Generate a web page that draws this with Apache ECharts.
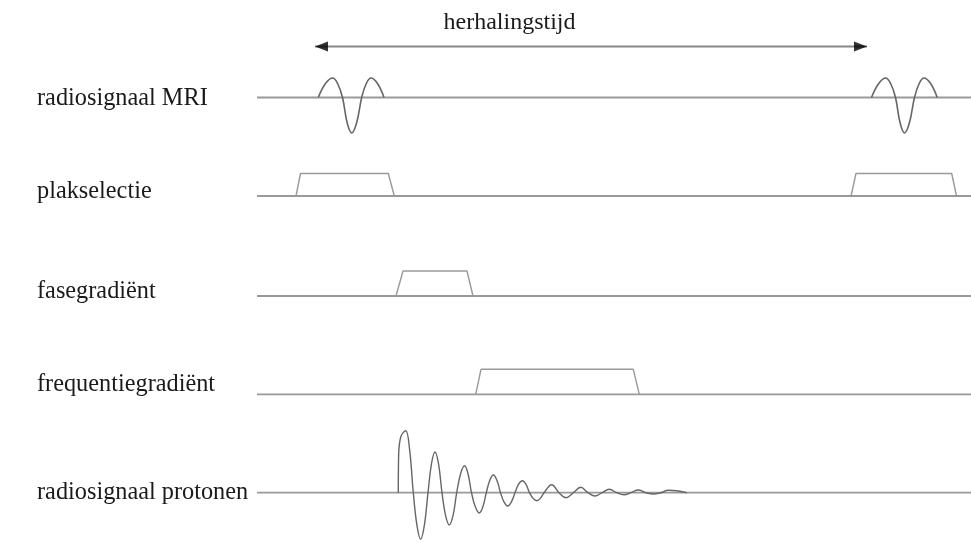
<!DOCTYPE html>
<html>
<head>
<meta charset="utf-8">
<script src="https://cdn.jsdelivr.net/npm/echarts@6/dist/echarts.min.js"></script>
<style>html,body{margin:0;padding:0;background:#fff}#c{width:971px;height:542px}</style>
</head>
<body>
<div id="c"></div>
<script>
// ---- data (time in arbitrary units along the sequence, amplitude in arbitrary units) ----
const titleText = 'herhalingstijd';
const rowLabels = ['radiosignaal MRI', 'plakselectie', 'fasegradiënt', 'frequentiegradiënt', 'radiosignaal protonen'];
const timeRange = [0, 714];
const repetitionArrow = [[58, 0], [610, 0]];
const rfPulse1 = [[61.3, 0], [68.5, 14], [75.7, 19.5], [80.6, 14], [85.5, 0], [90.1, -25], [94.7, -35.5],
  [99.7, -25], [104.7, 0], [109.3, 14], [114, 19.5], [120.5, 14], [127, 0]];
const rfPulse2 = [[614.5, 0], [621.7, 14], [628.7, 19.5], [633.6, 14], [638.5, 0], [643, -25], [647.5, -35.5],
  [652.5, -25], [657.5, 0], [662.2, 14], [667, 19.5], [673.6, 14], [680.2, 0]];
const sliceGrad1 = [[39, 0], [43.5, 22.5], [131.3, 22.5], [137.3, 0]];
const sliceGrad2 = [[594, 0], [599, 22.5], [694.7, 22.5], [699.5, 0]];
const phaseGrad = [[139, 0], [146, 25], [210, 25], [216, 0]];
const freqGrad = [[218.7, 0], [224, 25], [376.3, 25], [382.3, 0]];
const fidSignal = [[141.3, 0], [141.6, 36], [143.8, 56], [148.7, 62], [152.5, 44], [156.3, 0], [160, -33],
  [163.7, -46.6], [167.3, -33], [171, 0], [174.5, 29], [178, 40.7], [181.5, 29], [185, 0], [188.6, -23],
  [192.3, -32.3], [196, -23], [199.7, 0], [203.6, 19], [207.5, 27], [211, 19], [214.5, 0], [218.4, -14.4],
  [222.3, -20.3], [225.8, -14.4], [229.3, 0], [232.8, 12.5], [236.3, 17.7], [239.9, 12.5], [243.5, 0],
  [247.1, -9.4], [250.7, -13.3], [254.3, -9.4], [258, 0], [261.6, 8.5], [265.3, 12], [268.9, 8.5], [272.5, 0],
  [276.1, -5.7], [279.7, -8], [283.3, -5.7], [287, 0], [294.7, 8], [302, 0], [309, -5], [316.3, 0],
  [323.7, 5.4], [331, 0], [338, -3.3], [345, 0], [352.3, 3.4], [359.7, 0], [367, -2], [374, 0],
  [381.3, 2.7], [389, 0], [396.3, -1.3], [404, 0], [411.3, 2.4], [429.7, 0]];

// ---- layout ----
// baseline y, space above, space below (pixels) for arrow row + 5 signal rows
const rowLayout = [[46.5, 40, 40], [97.5, 45, 45], [196, 45, 45], [296, 45, 45], [394.3, 45, 45], [492.7, 70, 49]];
const labelMiddles = [99, 192, 292, 385, 493];
const FONT = '"Liberation Serif", "Times New Roman", serif';

const grids = [], xAxes = [], yAxes = [];
rowLayout.forEach((r, i) => {
  grids.push({ left: 257, right: 0, top: r[0] - r[1], height: r[1] + r[2] });
  xAxes.push({ type: 'value', gridIndex: i, min: timeRange[0], max: timeRange[1], show: false });
  yAxes.push({ type: 'value', gridIndex: i, min: -r[2], max: r[1], show: false });
});

const series = [];
for (let i = 1; i < rowLayout.length; i++) {
  series.push({ type: 'line', xAxisIndex: i, yAxisIndex: i, data: [[timeRange[0], 0], [timeRange[1], 0]],
    symbol: 'none', silent: true, lineStyle: { color: '#999', width: 1.8 } });
}
function wave(idx, data, smooth, color, width) {
  series.push({ type: 'line', xAxisIndex: idx, yAxisIndex: idx, data: data, symbol: 'none', smooth: smooth,
    clip: false, lineStyle: { color: color, width: width } });
}
wave(1, rfPulse1, 0.4, '#666', 1.6);
wave(1, rfPulse2, 0.4, '#666', 1.6);
wave(2, sliceGrad1, false, '#999', 1.4);
wave(2, sliceGrad2, false, '#999', 1.4);
wave(3, phaseGrad, false, '#999', 1.4);
wave(4, freqGrad, false, '#999', 1.4);
wave(5, fidSignal, 0.4, '#666', 1.4);
// arrow
series.push({ type: 'line', xAxisIndex: 0, yAxisIndex: 0, data: repetitionArrow, symbol: 'none',
  lineStyle: { color: '#888', width: 1.8 } });
series.push({ type: 'scatter', xAxisIndex: 0, yAxisIndex: 0, data: [repetitionArrow[0]], symbol: 'triangle',
  symbolSize: [10, 13], symbolRotate: 90, symbolOffset: [6.5, 0], itemStyle: { color: '#000' }, z: 5 });
series.push({ type: 'scatter', xAxisIndex: 0, yAxisIndex: 0, data: [repetitionArrow[1]], symbol: 'triangle',
  symbolSize: [10, 13], symbolRotate: -90, symbolOffset: [-6.5, 0], itemStyle: { color: '#000' }, z: 5 });

const graphic = [{ type: 'text', x: 509.5, y: 23, style: { text: titleText, font: '24px ' + FONT,
  fill: '#1a1a1a', align: 'center', verticalAlign: 'middle' } }];
rowLabels.forEach((t, i) => {
  graphic.push({ type: 'text', x: 37, y: labelMiddles[i], style: { text: t, font: '24.3px ' + FONT,
    fill: '#1a1a1a', align: 'left', verticalAlign: 'middle' } });
});

const chart = echarts.init(document.getElementById('c'));
chart.setOption({ animation: false, backgroundColor: '#fff', grid: grids, xAxis: xAxes, yAxis: yAxes,
  series: series, graphic: graphic });
</script>
</body>
</html>
